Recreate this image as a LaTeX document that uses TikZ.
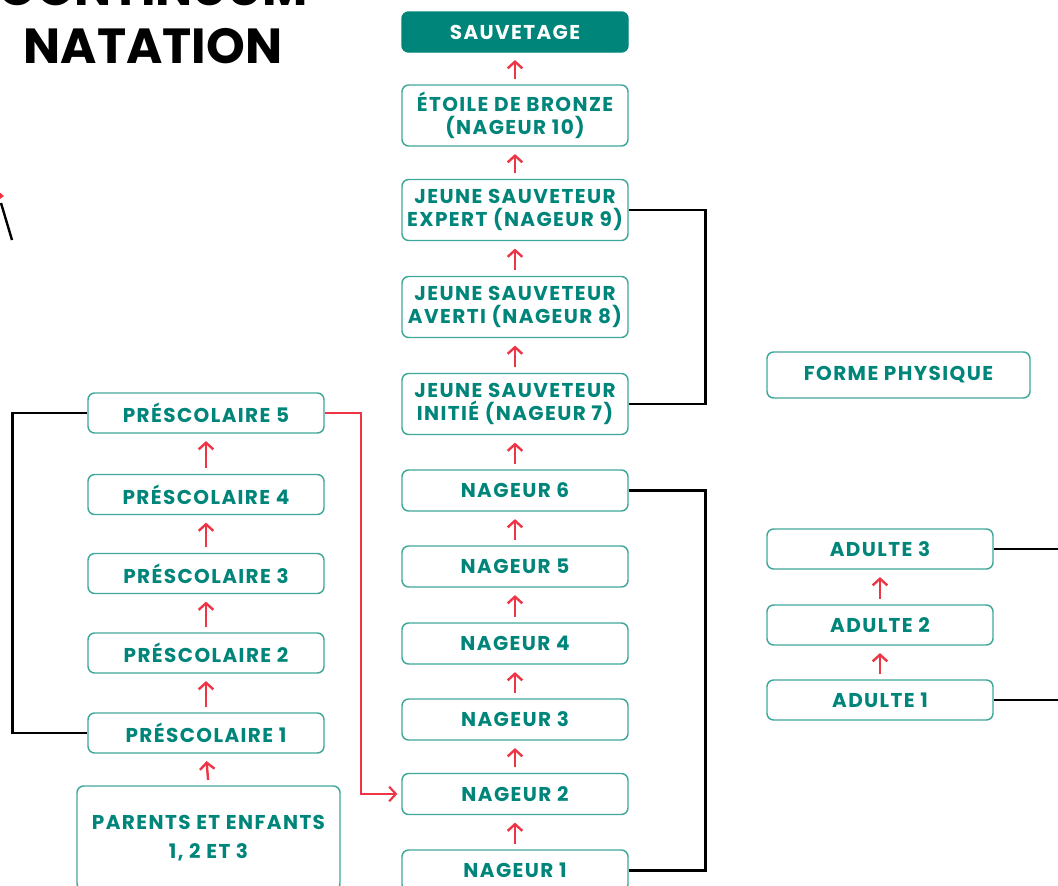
\documentclass[tikz,border=0pt]{standalone}
\usepackage{fontspec}
\setmainfont{Poppins}
\newfontfamily\boxfont[LetterSpace=7]{Poppins}
\usetikzlibrary{arrows.meta}
\definecolor{tealT}{HTML}{00857A}
\definecolor{tealB}{HTML}{3FA89A}
\definecolor{redA}{HTML}{EE3545}
\begin{document}
\begin{tikzpicture}[x=0.75pt,y=-0.75pt,
  box/.style={draw=tealB, line width=1.1pt, rounded corners=5pt, fill=white,
    text=tealT, font=\boxfont\bfseries\fontsize{15}{17.5}\selectfont, align=center, inner sep=0pt},
  midbox/.style={box, minimum width=169.5pt, minimum height=30.75pt},
  midtwo/.style={box, minimum width=169.5pt, minimum height=45.75pt},
  leftbox/.style={box, minimum width=177pt, minimum height=30pt},
  adbox/.style={box, minimum width=169.5pt, minimum height=30pt},
  uparr/.style={draw=redA, line width=1.8pt, -{Straight Barb[length=5pt,width=11pt]},
    shorten >=5.5pt, shorten <=4pt},
  redline/.style={draw=redA, line width=1.6pt},
  blackline/.style={draw=black, line width=2pt},
  titletext/.style={font=\bfseries\fontsize{37}{44}\selectfont, text=black, inner sep=0pt, anchor=base}
]
\useasboundingbox (0,0) rectangle (1058,886);
\clip (0,0) rectangle (1058,886);

% title
\node[titletext] (t1) at (153,5) {CONTINUUM};
\node[titletext] (t2) at (153,63) {NATATION};

% left fragment
\draw[blackline, line width=1.8pt] (1,203) -- (12,240);
\fill[redA] (-3,190) -- (4,196) -- (0,199) -- cycle;

% middle column
\node[midbox, fill=tealT, draw=tealT, text=white, minimum height=30pt] (sauv) at (515,32) {SAUVETAGE};
\node[midtwo] (etoile) at (515,115.5) {ÉTOILE DE BRONZE\\(NAGEUR 10)};
\node[midtwo] (expert) at (515,210) {JEUNE SAUVETEUR\\EXPERT (NAGEUR 9)};
\node[midtwo] (averti) at (515,307) {JEUNE SAUVETEUR\\AVERTI (NAGEUR 8)};
\node[midtwo] (initie) at (515,404) {JEUNE SAUVETEUR\\INITIÉ (NAGEUR 7)};
\node[midbox] (n6) at (515,490.5) {NAGEUR 6};
\node[midbox] (n5) at (515,566.5) {NAGEUR 5};
\node[midbox] (n4) at (515,643.5) {NAGEUR 4};
\node[midbox] (n3) at (515,719.5) {NAGEUR 3};
\node[midbox] (n2) at (515,794) {NAGEUR 2};
\node[midbox] (n1) at (515,870.5) {NAGEUR 1};

% left column
\node[leftbox] (p5) at (206,413) {PRÉSCOLAIRE 5};
\node[leftbox] (p4) at (206,494.5) {PRÉSCOLAIRE 4};
\node[leftbox] (p3) at (206,573.5) {PRÉSCOLAIRE 3};
\node[leftbox] (p2) at (206,653) {PRÉSCOLAIRE 2};
\node[leftbox] (p1) at (206,733) {PRÉSCOLAIRE 1};
\node[box, font=\boxfont\bfseries\fontsize{15}{21.5}\selectfont, minimum width=197.25pt, minimum height=78pt] (pe) at (208.5,838) {PARENTS ET ENFANTS\\1, 2 ET 3};

% right column
\node[box, minimum width=197.25pt, minimum height=34.5pt] (forme) at (898.5,375) {FORME PHYSIQUE};
\node[adbox] (a3) at (880,549) {ADULTE 3};
\node[adbox] (a2) at (880,625) {ADULTE 2};
\node[adbox] (a1) at (880,700) {ADULTE 1};
\coordinate (a3r) at (1070,549);
\coordinate (a1r) at (1070,700);

% red up arrows
\draw[uparr] (etoile.north) -- (sauv.south);
\draw[uparr] (expert.north) -- (etoile.south);
\draw[uparr] (averti.north) -- (expert.south);
\draw[uparr] (initie.north) -- (averti.south);
\draw[uparr] (n6.north) -- (initie.south);
\draw[uparr] (n5.north) -- (n6.south);
\draw[uparr] (n4.north) -- (n5.south);
\draw[uparr] (n3.north) -- (n4.south);
\draw[uparr] (n2.north) -- (n3.south);
\draw[uparr] (n1.north) -- (n2.south);
\draw[uparr] (p4.north) -- (p5.south);
\draw[uparr] (p3.north) -- (p4.south);
\draw[uparr] (p2.north) -- (p3.south);
\draw[uparr] (p1.north) -- (p2.south);
\draw[uparr] (pe.north) -- (p1.south);
\draw[uparr] (a2.north) -- (a3.south);
\draw[uparr] (a1.north) -- (a2.south);

% red connector
\draw[redline, -{Straight Barb[length=5pt,width=11pt]}, shorten >=3pt] (p5.east) -- ++(36,0) |- (n2.west);

% black connectors
\draw[blackline] (expert.east) -- ++(77,0) |- (initie.east);
\draw[blackline] (n6.east) -- ++(77,0) |- (n1.east);
\draw[blackline] (p5.west) -- ++(-75,0) |- (p1.west);
\draw[blackline] (a3.east) -- (a3r);
\draw[blackline] (a1.east) -- (a1r);
\end{tikzpicture}
\end{document}
